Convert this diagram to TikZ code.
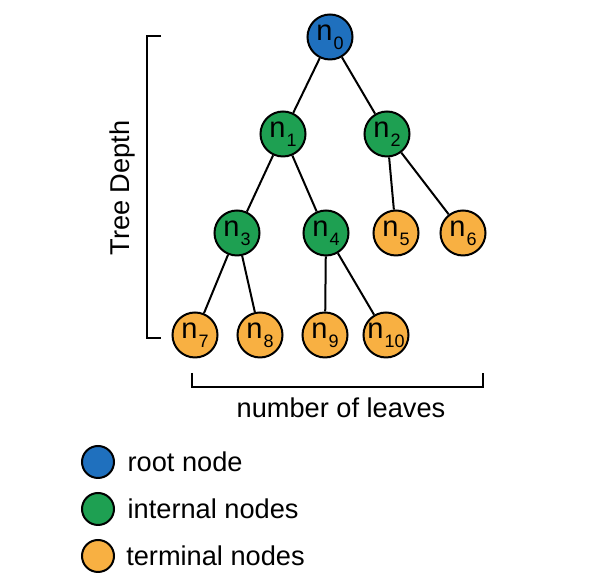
\documentclass[tikz,border=0pt]{standalone}
\usepackage{fontspec}
\setmainfont{Liberation Sans}
\usetikzlibrary{positioning}
\usetikzlibrary{calc}
\definecolor{rootblue}{RGB}{31,112,190}
\definecolor{innergreen}{RGB}{30,160,82}
\definecolor{leaforange}{RGB}{248,176,66}
\newcommand{\nd}[1]{n\kern0.6pt\raisebox{-4.3pt}{\fontsize{9}{9}\selectfont #1}}

\begin{document}
\begin{tikzpicture}[x=0.5pt,y=-0.5pt,line width=1pt,font=\fontsize{13.6}{16}\selectfont]
	\tikzstyle{every tnode}=[circle,draw,line width=1pt,minimum size=22.5pt,inner sep=0pt,font=\fontsize{14.5}{16}\selectfont]
	\tikzstyle{rootnode}=[every tnode,fill=rootblue]
	\tikzstyle{innernode}=[every tnode,fill=innergreen]
	\tikzstyle{leafnode}=[every tnode,fill=leaforange]
	\tikzstyle{keynode}=[circle,draw,line width=1pt,minimum size=16pt,inner sep=0pt]
	\tikzstyle{bracket}=[line width=1.2pt]
	\useasboundingbox (0,0) rectangle (590,581);

	\node[rootnode]  (n_0)  at (330,37)  {\nd{0}};
	\node[innernode] (n_1)  at (283,134) {\nd{1}};
	\node[innernode] (n_2)  at (387,134) {\nd{2}};
	\node[innernode] (n_3)  at (237,233) {\nd{3}};
	\node[innernode] (n_4)  at (326,233) {\nd{4}};
	\node[leafnode]  (n_5)  at (396,233) {\nd{5}};
	\node[leafnode]  (n_6)  at (463,233) {\nd{6}};
	\node[leafnode]  (n_7)  at (195,335) {\nd{7}};
	\node[leafnode]  (n_8)  at (260,335) {\nd{8}};
	\node[leafnode]  (n_9)  at (325,335) {\nd{9}};
	\node[leafnode]  (n_10) at (386,335) {\nd{10}};

	\path (n_0) edge (n_1)
	(n_0) edge (n_2)
	(n_1) edge (n_3)
	(n_1) edge (n_4)
	(n_2) edge (n_5)
	(n_2) edge (n_6)
	(n_3) edge (n_7)
	(n_3) edge (n_8)
	(n_4) edge (n_9)
	(n_4) edge (n_10);

	\coordinate (d_top) at (147,36);
	\coordinate (d_bot) at (147,338);
	\draw[bracket] ($(d_top)+(14,0)$) -- (d_top) -- (d_bot) -- ($(d_bot)+(14,0)$);
	\node[rotate=90] (depth) at (122,188) {Tree Depth};

	\coordinate (l_left) at (192,387);
	\coordinate (l_right) at (483,387);
	\draw[bracket] ($(l_left)+(0,-14)$) -- (l_left) -- (l_right) -- ($(l_right)+(0,-14)$);
	\node (leaves) at (341,408) {number of leaves};

	\node[keynode,fill=rootblue]   (k_root)  at (98,462) {};
	\node[keynode,fill=innergreen] (k_inner) at (98,509) {};
	\node[keynode,fill=leaforange] (k_leaf)  at (98,556) {};
	\node[right=2.5pt of k_root]  {root node};
	\node[right=2.5pt of k_inner] {internal nodes};
	\node[right=1.8pt of k_leaf]  {terminal nodes};
\end{tikzpicture}
\end{document}
